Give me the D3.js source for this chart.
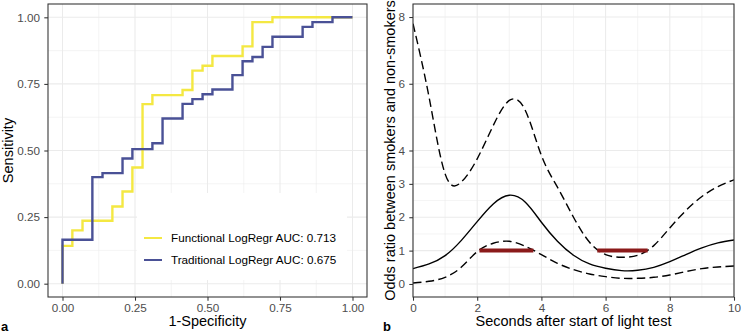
<!DOCTYPE html>
<html>
<head>
<meta charset="utf-8">
<script src="https://cdn.jsdelivr.net/npm/d3@7"></script>
<style>
  body { margin: 0; background: #fff; }
  svg { font-family: "Liberation Sans", Arial, sans-serif; display: block; }
  .grid-major { stroke: #ebebeb; stroke-width: 1.07; }
  .grid-minor { stroke: #ebebeb; stroke-width: 0.53; }
  .axis text { fill: #4d4d4d; font-size: 11.7px; }
  .axis line { stroke: #333; stroke-width: 1.07; }
  .axis path { display: none; }
  .border { fill: none; stroke: #333; stroke-width: 1.07; }
  .title { font-size: 14.5px; fill: #000; }
  .tag { font-size: 13px; font-weight: bold; fill: #000; }
</style>
</head>
<body>
<script>
// panel a: ROC curves (step points: at fpr[i] the tpr jumps to tpr[i])
var functionalFpr = [0, 0, 0.034, 0.069, 0.172, 0.207, 0.241, 0.276, 0.310, 0.414, 0.448, 0.483, 0.517, 0.621, 0.655, 0.724, 1],
    functionalTpr = [0, 0.142, 0.2, 0.236, 0.29, 0.346, 0.436, 0.674, 0.708, 0.727, 0.80, 0.818, 0.855, 0.891, 0.982, 1, 1];
var traditionalFpr = [0, 0, 0.103, 0.138, 0.207, 0.241, 0.310, 0.345, 0.414, 0.448, 0.483, 0.517, 0.586, 0.621, 0.655, 0.690, 0.724, 0.828, 0.862, 0.931, 1],
    traditionalTpr = [0, 0.165, 0.40, 0.415, 0.47, 0.505, 0.527, 0.62, 0.675, 0.693, 0.711, 0.729, 0.783, 0.835, 0.851, 0.889, 0.927, 0.964, 0.982, 1, 1];
var rocLabels = ["Functional LogRegr AUC: 0.713", "Traditional LogRegr AUC: 0.675"];
var rocTicks = [0, 0.25, 0.5, 0.75, 1],
    rocMinor = [0.125, 0.375, 0.625, 0.875];

// panel b: odds ratio over time
var seconds       = [0, 0.5, 1, 1.5, 2, 2.5, 3, 3.5, 4, 4.5, 5, 5.5, 6, 6.5, 7, 7.5, 8, 8.5, 9, 9.5, 10];
var oddsEstimate  = [0.46, 0.6, 0.85, 1.3, 1.87, 2.4, 2.66, 2.45, 1.85, 1.28, 0.86, 0.6, 0.47, 0.4, 0.41, 0.5, 0.67, 0.88, 1.08, 1.23, 1.32];
var oddsUpper     = [7.8, 5.6, 3.3, 3.05, 3.75, 4.75, 5.5, 5.2, 3.85, 2.9, 2.0, 1.25, 0.88, 0.8, 0.86, 1.15, 1.68, 2.2, 2.62, 2.92, 3.12];
var oddsLower     = [0.03, 0.08, 0.2, 0.5, 0.97, 1.22, 1.28, 1.13, 0.88, 0.62, 0.43, 0.3, 0.22, 0.17, 0.17, 0.2, 0.27, 0.37, 0.46, 0.51, 0.54];
var sigStart = [2.07, 5.74], sigEnd = [3.75, 7.31], sigLevel = 1;
var secondTicks = [0, 2, 4, 6, 8, 10], secondMinor = [1, 3, 5, 7, 9];
var oddsTicks = [0, 1, 2, 3, 4, 6, 8], oddsMinor = [0.5, 1.5, 2.5, 3.5, 5, 7];

var rocColors = ["#f4e842", "#4a5196"];

var svg = d3.select("body").append("svg")
    .attr("width", 741)
    .attr("height", 333);

var panelA = {left: 48, right: 367, top: 4, bottom: 297},
    panelB = {left: 413, right: 734, top: 4, bottom: 297};

// scales
var xA = d3.scaleLinear().domain([-0.05, 1.05]).range([panelA.left, panelA.right]),
    yA = d3.scaleLinear().domain([-0.05, 1.05]).range([panelA.bottom, panelA.top]);
var xB = d3.scaleLinear().domain([0, 10]).range([panelB.left, panelB.right]),
    yB = d3.scaleLinear().domain([-0.39, 8.39]).range([panelB.bottom, panelB.top]);

function drawGrid(g, p, x, y, xMajor, xMinor, yMajor, yMinor) {
  g.selectAll(".gxm").data(xMinor).enter().append("line")
      .attr("class", "grid-minor")
      .attr("x1", d => x(d)).attr("x2", d => x(d))
      .attr("y1", p.top).attr("y2", p.bottom);
  g.selectAll(".gym").data(yMinor).enter().append("line")
      .attr("class", "grid-minor")
      .attr("y1", d => y(d)).attr("y2", d => y(d))
      .attr("x1", p.left).attr("x2", p.right);
  g.selectAll(".gx").data(xMajor).enter().append("line")
      .attr("class", "grid-major")
      .attr("x1", d => x(d)).attr("x2", d => x(d))
      .attr("y1", p.top).attr("y2", p.bottom);
  g.selectAll(".gy").data(yMajor).enter().append("line")
      .attr("class", "grid-major")
      .attr("y1", d => y(d)).attr("y2", d => y(d))
      .attr("x1", p.left).attr("x2", p.right);
}

function addClip(id, p) {
  svg.append("clipPath").attr("id", id)
    .append("rect")
      .attr("x", p.left).attr("y", p.top)
      .attr("width", p.right - p.left).attr("height", p.bottom - p.top);
}
addClip("clipA", panelA);
addClip("clipB", panelB);

// ---------- panel a ----------
var ga = svg.append("g");
drawGrid(ga, panelA, xA, yA, rocTicks, rocMinor, rocTicks, rocMinor);

var rocLine = d3.line()
    .x(d => xA(d[0]))
    .y(d => yA(d[1]))
    .curve(d3.curveStepAfter);

var rocSeries = [
  d3.zip(functionalFpr, functionalTpr),
  d3.zip(traditionalFpr, traditionalTpr)
];

// legend box (white background hides grid)
var legend = ga.append("g");
legend.append("rect")
    .attr("x", 137).attr("y", 193)
    .attr("width", 210).attr("height", 87)
    .attr("fill", "#fff");

ga.append("g")
    .attr("clip-path", "url(#clipA)")
    .selectAll("path")
    .data(rocSeries)
    .enter()
    .append("path")
    .attr("d", rocLine)
    .attr("fill", "none")
    .attr("stroke", (d, i) => rocColors[i])
    .attr("stroke-width", 2.4);

var legendRows = legend.selectAll(".row")
    .data(rocLabels)
    .enter()
    .append("g")
    .attr("transform", (d, i) => `translate(144, ${238 + i * 22})`);
legendRows.append("line")
    .attr("x1", 0).attr("x2", 18)
    .attr("stroke", (d, i) => rocColors[i])
    .attr("stroke-width", 2);
legendRows.append("text")
    .text(d => d)
    .attr("x", 27)
    .attr("dy", "0.35em")
    .attr("font-size", "11.7px")
    .attr("fill", "#000");

ga.append("g")
    .attr("class", "axis")
    .attr("transform", `translate(0, ${panelA.bottom})`)
    .call(d3.axisBottom(xA).tickValues(rocTicks).tickFormat(d3.format(".2f")).tickSize(3.7).tickPadding(3));
ga.append("g")
    .attr("class", "axis")
    .attr("transform", `translate(${panelA.left}, 0)`)
    .call(d3.axisLeft(yA).tickValues(rocTicks).tickFormat(d3.format(".2f")).tickSize(3.7).tickPadding(4.4));

ga.append("rect")
    .attr("class", "border")
    .attr("x", panelA.left).attr("y", panelA.top)
    .attr("width", panelA.right - panelA.left)
    .attr("height", panelA.bottom - panelA.top);

ga.append("text")
    .attr("class", "title")
    .attr("text-anchor", "middle")
    .attr("x", (panelA.left + panelA.right) / 2)
    .attr("y", 326)
    .text("1-Specificity");
ga.append("text")
    .attr("class", "title")
    .attr("text-anchor", "middle")
    .attr("transform", `translate(13, ${(panelA.top + panelA.bottom) / 2}) rotate(-90)`)
    .text("Sensitivity");
ga.append("text")
    .attr("class", "tag")
    .attr("x", 1).attr("y", 331)
    .text("a");

// ---------- panel b ----------
var gb = svg.append("g");
drawGrid(gb, panelB, xB, yB, secondTicks, secondMinor, oddsTicks, oddsMinor);

var oddsLine = d3.line()
    .x(d => xB(d[0]))
    .y(d => yB(d[1]))
    .curve(d3.curveNatural);

var oddsSeries = [
  {values: d3.zip(seconds, oddsUpper), dashed: true},
  {values: d3.zip(seconds, oddsEstimate), dashed: false},
  {values: d3.zip(seconds, oddsLower), dashed: true}
];

var lines = gb.append("g").attr("clip-path", "url(#clipB)");
lines.selectAll(".odds")
    .data(oddsSeries)
    .enter()
    .append("path")
    .attr("class", "odds")
    .attr("d", d => oddsLine(d.values))
    .attr("fill", "none")
    .attr("stroke", "#000")
    .attr("stroke-width", 1.4)
    .attr("stroke-dasharray", d => d.dashed ? "8.5,4.3" : null);

lines.selectAll(".sig")
    .data(d3.zip(sigStart, sigEnd))
    .enter()
    .append("line")
    .attr("class", "sig")
    .attr("x1", d => xB(d[0])).attr("x2", d => xB(d[1]))
    .attr("y1", yB(sigLevel)).attr("y2", yB(sigLevel))
    .attr("stroke", "#8b1a1a")
    .attr("stroke-width", 4);

gb.append("g")
    .attr("class", "axis")
    .attr("transform", `translate(0, ${panelB.bottom})`)
    .call(d3.axisBottom(xB).tickValues(secondTicks).tickFormat(d3.format("d")).tickSize(3.7).tickPadding(3));
gb.append("g")
    .attr("class", "axis")
    .attr("transform", `translate(${panelB.left}, 0)`)
    .call(d3.axisLeft(yB).tickValues(oddsTicks).tickFormat(d3.format("d")).tickSize(3.7).tickPadding(4.4));

gb.append("rect")
    .attr("class", "border")
    .attr("x", panelB.left).attr("y", panelB.top)
    .attr("width", panelB.right - panelB.left)
    .attr("height", panelB.bottom - panelB.top);

gb.append("text")
    .attr("class", "title")
    .attr("text-anchor", "middle")
    .attr("x", (panelB.left + panelB.right) / 2)
    .attr("y", 326)
    .text("Seconds after start of light test");
gb.append("text")
    .attr("class", "title")
    .attr("text-anchor", "middle")
    .attr("transform", `translate(395, ${(panelB.top + panelB.bottom) / 2}) rotate(-90)`)
    .text("Odds ratio between smokers and non-smokers");
gb.append("text")
    .attr("class", "tag")
    .attr("x", 383).attr("y", 331)
    .text("b");
</script>
</body>
</html>
